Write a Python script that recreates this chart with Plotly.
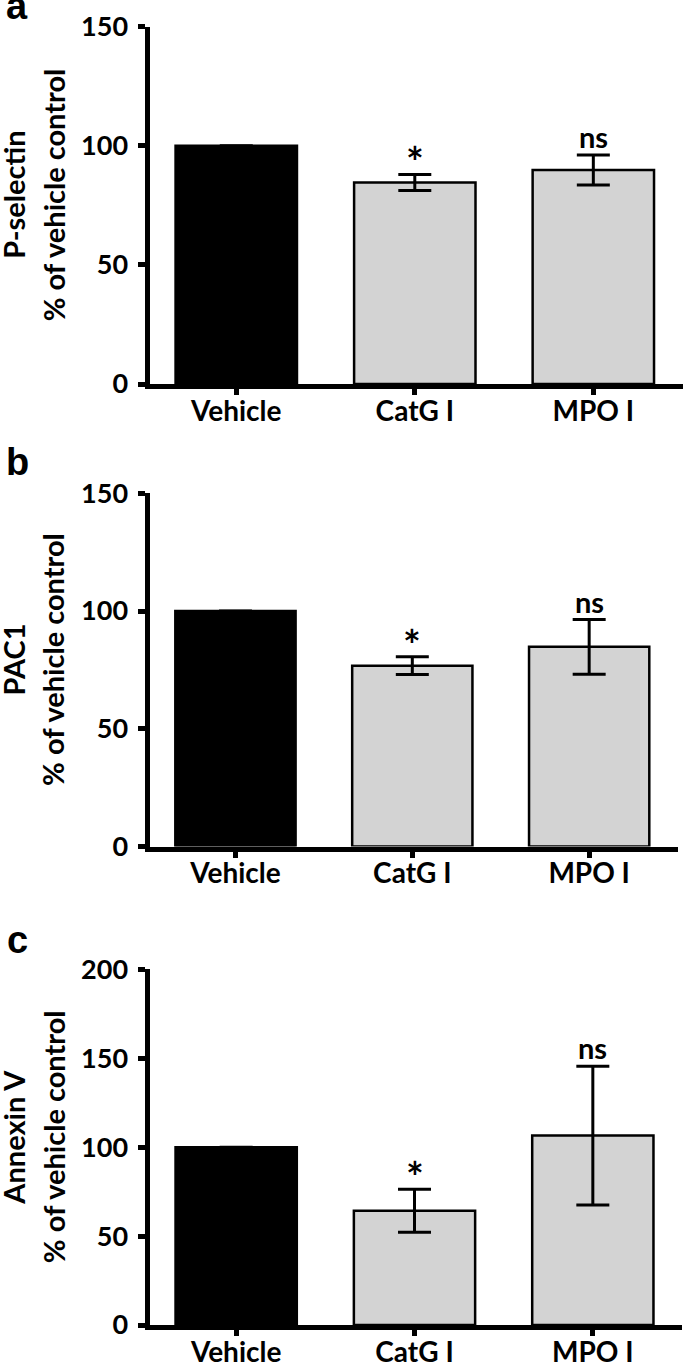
import plotly.graph_objects as go

categories = ["Vehicle", "CatG I", "MPO I"]
significance = ["", "*", "ns"]

pselectin_mean = [100, 84.6, 89.8]
pselectin_sem = [0, 3.4, 6.3]

pac1_mean = [100, 76.8, 84.8]
pac1_sem = [0, 3.8, 11.6]

annexin_mean = [100, 64.2, 106.5]
annexin_sem = [0, 12.1, 39.0]

W, H = 685, 1363


def px_x(x):
    return x / W


def px_y(y):
    return 1 - y / H


panels = [
    dict(letter="a", marker="P-selectin", mean=pselectin_mean, sem=pselectin_sem,
         yrange=[0, 150], top=26.7, bottom=384, left=149.5, right=682.6, base=20),
    dict(letter="b", marker="PAC1", mean=pac1_mean, sem=pac1_sem,
         yrange=[0, 150], top=493.3, bottom=846.5, left=149.5, right=677.6, base=476),
    dict(letter="c", marker="Annexin V", mean=annexin_mean, sem=annexin_sem,
         yrange=[0, 200], top=969.3, bottom=1325, left=149.5, right=682, base=954),
]

TICKFONT = dict(family="Lato", size=27, color="black", weight="bold")
XFONT = dict(family="Lato", size=28, color="black", weight="bold")
TITLEFONT = dict(family="Lato", size=29, color="black", weight="bold")

fig = go.Figure()
annotations = []
layout = {}
for i, p in enumerate(panels):
    sfx = "" if i == 0 else str(i + 1)
    xa, ya = "x" + sfx, "y" + sfx
    colors = ["black" if c == "Vehicle" else "#d3d3d3" for c in categories]
    fig.add_trace(go.Bar(
        x=categories, y=p["mean"], xaxis=xa, yaxis=ya,
        width=0.68,
        marker=dict(color=colors, line=dict(color="black", width=2.5)),
        error_y=dict(type="data", array=p["sem"], symmetric=True,
                     color="black", thickness=3, width=16.5),
        showlegend=False,
    ))
    layout["xaxis" + sfx] = dict(
        domain=[px_x(p["left"]), px_x(p["right"])], anchor=ya, type="category",
        range=[-0.486, 2.5],
        showline=True, linecolor="black", linewidth=5,
        ticks="outside", ticklen=6, tickwidth=5, tickcolor="black",
        showgrid=False, zeroline=False, tickfont=XFONT, automargin=False,
        ticklabelstandoff=-8, fixedrange=True,
    )
    layout["yaxis" + sfx] = dict(
        domain=[px_y(p["bottom"]), px_y(p["top"])], anchor=xa, range=p["yrange"],
        dtick=50,
        showline=True, linecolor="black", linewidth=5,
        ticks="outside", ticklen=7, tickwidth=5, tickcolor="black",
        showgrid=False, zeroline=False, tickfont=TICKFONT, automargin=False,
        ticklabelstandoff=4, fixedrange=True,
    )
    # significance labels
    for c, m, s, t in zip(categories, p["mean"], p["sem"], significance):
        if t == "*":
            annotations.append(dict(
                x=c, y=m + s, xref=xa, yref=ya, text=t, showarrow=False,
                yanchor="bottom", yshift=-15,
                font=dict(family="Lato", size=42, color="black", weight="bold"),
            ))
        elif t:
            annotations.append(dict(
                x=c, y=m + s, xref=xa, yref=ya, text=t, showarrow=False,
                yanchor="bottom", yshift=-1,
                font=dict(family="Lato", size=29, color="black", weight="bold"),
            ))
    # y-axis titles (two lines)
    ctr = (p["top"] + p["bottom"]) / 2 - 10
    annotations.append(dict(
        x=px_x(13.5), y=px_y(ctr), xref="paper", yref="paper", text=p["marker"],
        textangle=-90, showarrow=False, xanchor="center", yanchor="middle",
        font=TITLEFONT,
    ))
    annotations.append(dict(
        x=px_x(53), y=px_y(ctr), xref="paper", yref="paper",
        text="% of vehicle control",
        textangle=-90, showarrow=False, xanchor="center", yanchor="middle",
        font=TITLEFONT,
    ))
    # panel letter
    annotations.append(dict(
        x=px_x(17), y=px_y(p["base"] + 9), xref="paper", yref="paper",
        text=p["letter"], showarrow=False, xanchor="center", yanchor="bottom",
        font=dict(family="Liberation Sans", size=38, color="black", weight="bold"),
    ))

fig.update_layout(
    width=W, height=H,
    margin=dict(l=0, r=0, t=0, b=0),
    paper_bgcolor="white", plot_bgcolor="white",
    annotations=annotations, barmode="overlay",
    **layout,
)

fig.write_html("out.html", config={"displayModeBar": False},
               post_script="document.body.style.margin='0';")
